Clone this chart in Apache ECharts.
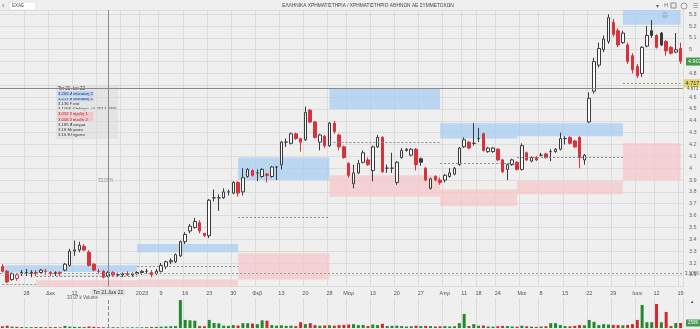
<!DOCTYPE html>
<html><head><meta charset="utf-8">
<script src="https://cdn.jsdelivr.net/npm/echarts@6/dist/echarts.min.js"></script>
<style>html,body{margin:0;padding:0;background:#efefef}#c{width:700px;height:329px}</style>
</head><body><div id="c"></div>
<script>
const categories = [
'2022-11-21','2022-11-22','2022-11-23','2022-11-24','2022-11-25','2022-11-28','2022-11-29','2022-11-30',
'2022-12-01','2022-12-02','2022-12-05','2022-12-06','2022-12-07','2022-12-08','2022-12-09','2022-12-12','2022-12-13','2022-12-14','2022-12-15','2022-12-16','2022-12-19','2022-12-20','2022-12-21','2022-12-22','2022-12-23','2022-12-27','2022-12-28','2022-12-29','2022-12-30',
'2023-01-02','2023-01-03','2023-01-04','2023-01-05','2023-01-09','2023-01-10','2023-01-11','2023-01-12','2023-01-13','2023-01-16','2023-01-17','2023-01-18','2023-01-19','2023-01-20','2023-01-23','2023-01-24','2023-01-25','2023-01-26','2023-01-27','2023-01-30','2023-01-31',
'2023-02-01','2023-02-02','2023-02-03','2023-02-06','2023-02-07','2023-02-08','2023-02-09','2023-02-10','2023-02-13','2023-02-14','2023-02-15','2023-02-16','2023-02-17','2023-02-20','2023-02-21','2023-02-22','2023-02-23','2023-02-24','2023-02-28',
'2023-03-01','2023-03-02','2023-03-03','2023-03-06','2023-03-07','2023-03-08','2023-03-09','2023-03-10','2023-03-13','2023-03-14','2023-03-15','2023-03-16','2023-03-17','2023-03-20','2023-03-21','2023-03-22','2023-03-23','2023-03-24','2023-03-27','2023-03-28','2023-03-29','2023-03-30','2023-03-31',
'2023-04-03','2023-04-04','2023-04-05','2023-04-06','2023-04-11','2023-04-12','2023-04-13','2023-04-18','2023-04-19','2023-04-20','2023-04-21','2023-04-24','2023-04-25','2023-04-26','2023-04-27','2023-04-28',
'2023-05-02','2023-05-03','2023-05-04','2023-05-05','2023-05-08','2023-05-09','2023-05-10','2023-05-11','2023-05-12','2023-05-15','2023-05-16','2023-05-17','2023-05-18','2023-05-19','2023-05-22','2023-05-23','2023-05-24','2023-05-25','2023-05-26','2023-05-29','2023-05-30','2023-05-31',
'2023-06-01','2023-06-02','2023-06-06','2023-06-07','2023-06-08','2023-06-09','2023-06-12','2023-06-13','2023-06-14','2023-06-15','2023-06-16','2023-06-19'
];
const opens = [
3.17,3.13,3.06,3.07,3.11,3.12,3.11,3.12,3.12,3.13,
3.12,3.11,3.12,3.14,3.18,3.30,3.31,3.34,3.29,3.19,
3.13,3.13,3.09,3.12,3.10,3.10,3.11,3.10,3.11,3.12,
3.13,3.12,3.11,3.13,3.17,3.21,3.21,3.26,3.38,3.47,
3.50,3.54,3.45,3.43,3.75,3.75,3.75,3.80,3.79,3.88,
3.80,3.93,3.98,3.96,3.93,3.95,3.93,4.01,4.03,4.22,
4.21,4.29,4.25,4.24,4.49,4.39,4.22,4.27,4.19,4.38,
4.28,4.18,4.04,3.87,3.96,4.05,4.07,3.98,4.18,4.26,
4.00,4.00,3.88,4.09,4.15,4.11,4.16,4.08,4.00,3.83,
3.93,3.90,3.90,3.93,3.95,4.03,4.18,4.22,4.21,4.25,
4.29,4.14,4.14,4.16,4.07,3.99,4.03,4.05,3.99,4.13,
4.06,4.09,4.11,4.12,4.14,4.14,4.16,4.25,4.26,4.23,
4.26,4.07,4.39,4.65,4.87,5.00,5.07,5.23,5.16,5.06,
5.04,4.95,4.86,4.80,5.03,5.16,5.12,5.14,5.07,5.02,4.98,5.01];
const closes = [
3.13,3.04,3.11,3.10,3.12,3.12,3.12,3.11,3.14,3.13,
3.11,3.12,3.11,3.19,3.30,3.31,3.35,3.31,3.18,3.14,
3.13,3.08,3.12,3.10,3.10,3.11,3.10,3.11,3.12,3.13,
3.13,3.10,3.13,3.18,3.21,3.22,3.27,3.38,3.44,3.51,
3.55,3.47,3.43,3.73,3.75,3.75,3.80,3.80,3.88,3.79,
3.92,3.99,3.94,3.96,3.99,3.94,4.01,4.01,4.22,4.22,
4.29,4.25,4.22,4.47,4.39,4.26,4.28,4.19,4.38,4.31,
4.18,4.09,3.94,3.96,4.04,4.13,4.03,4.18,4.26,3.97,
4.00,4.00,4.05,4.15,4.16,4.16,4.03,4.05,3.90,3.91,
3.90,3.88,3.94,3.96,4.00,4.17,4.24,4.17,4.21,4.25,
4.15,4.17,4.17,4.07,3.97,4.03,4.07,3.99,4.19,4.07,
4.09,4.07,4.11,4.09,4.14,4.16,4.25,4.25,4.21,4.18,
4.09,4.11,4.59,4.90,5.01,5.09,5.27,5.13,5.04,5.14,
4.90,4.83,4.78,5.02,5.12,5.12,5.02,5.04,4.99,4.97,5.00,4.902];
const lows = [
3.12,3.03,3.05,3.05,3.09,3.09,3.08,3.09,3.11,3.10,
3.09,3.09,3.09,3.13,3.17,3.26,3.29,3.30,3.17,3.13,
3.11,3.07,3.08,3.09,3.08,3.08,3.09,3.08,3.10,3.10,
3.11,3.08,3.10,3.12,3.15,3.19,3.20,3.25,3.36,3.45,
3.49,3.45,3.42,3.41,3.72,3.64,3.74,3.77,3.78,3.76,
3.77,3.92,3.93,3.89,3.92,3.88,3.92,3.90,3.99,4.18,
4.20,4.24,4.14,4.23,4.38,4.25,4.15,4.17,4.18,4.29,
4.15,4.08,3.92,3.83,3.95,4.04,4.02,3.89,4.17,3.96,
3.96,3.96,3.86,4.08,4.14,4.10,3.98,4.02,3.89,3.82,
3.89,3.86,3.88,3.92,3.94,4.02,4.17,4.16,4.19,4.22,
4.14,4.13,4.13,4.06,3.96,3.90,4.02,3.98,3.98,4.06,
4.05,4.06,4.10,4.08,4.06,4.13,4.15,4.20,4.20,4.17,
4.00,4.03,4.38,4.63,4.85,4.98,5.05,5.11,5.02,5.05,
4.88,4.80,4.76,4.77,5.02,5.10,5.01,5.03,4.95,4.96,4.97,4.88];
const highs = [
3.19,3.14,3.12,3.11,3.14,3.15,3.14,3.14,3.15,3.15,
3.13,3.13,3.13,3.20,3.32,3.39,3.38,3.36,3.31,3.20,
3.15,3.14,3.13,3.13,3.12,3.12,3.13,3.12,3.13,3.14,
3.15,3.14,3.15,3.20,3.22,3.24,3.28,3.39,3.46,3.53,
3.58,3.56,3.45,3.74,3.82,3.78,3.83,3.82,3.89,3.89,
4.00,4.00,3.99,3.99,4.00,3.96,4.02,4.02,4.23,4.25,
4.30,4.30,4.25,4.52,4.50,4.40,4.29,4.28,4.39,4.40,
4.29,4.19,4.05,4.03,4.07,4.15,4.09,4.19,4.28,4.27,
4.03,4.13,4.06,4.17,4.17,4.17,4.17,4.09,4.01,3.92,
3.94,3.92,3.95,4.00,4.01,4.18,4.26,4.23,4.38,4.34,
4.30,4.18,4.18,4.17,4.08,4.04,4.08,4.06,4.21,4.14,
4.10,4.10,4.13,4.13,4.16,4.17,4.30,4.27,4.27,4.24,
4.27,4.12,4.64,4.93,5.06,5.12,5.30,5.26,5.18,5.16,
5.06,4.97,4.88,5.03,5.20,5.25,5.13,5.15,5.08,5.03,5.14,5.06];
const volumesK = [
90,120,70,60,50,40,45,50,55,40,
45,50,40,110,70,60,55,50,80,60,
45,40,33.07,40,35,30,30,35,30,35,
45,50,60,70,80,90,100,1450,420,400,
380,100,90,420,260,240,120,110,150,130,
250,250,230,200,400,380,150,120,140,110,
120,100,300,200,250,150,120,130,140,120,
150,160,180,200,150,160,100,180,150,220,
100,110,120,100,80,90,120,100,110,100,
80,90,100,80,90,250,730,100,200,120,
130,80,70,90,110,100,80,70,120,90,
70,60,80,90,250,250,150,100,90,110,
150,140,420,320,150,200,180,160,150,140,
160,200,420,1200,300,300,1250,300,830,100,260,259];

// week tick labels on the date axis
const tickDates = ['2022-11-28','2022-12-05','2022-12-12','2022-12-19','2022-12-27','2023-01-02','2023-01-09','2023-01-16','2023-01-23','2023-01-30','2023-02-06','2023-02-13','2023-02-20','2023-02-28','2023-03-06','2023-03-13','2023-03-20','2023-03-27','2023-04-03','2023-04-11','2023-04-18','2023-04-24','2023-05-02','2023-05-08','2023-05-15','2023-05-22','2023-05-29','2023-06-06','2023-06-12','2023-06-19'];
const tickLabels = ['28','Δεκ','12','19','27','2023','9','16','23','30','Φεβ','13','20','28','Μαρ','13','20','27','Απρ','11','18','24','Μαι','8','15','22','29','Ιουν','12','19'];

// monthly pivot zones (Fibonacci pivots)
const pivotStart = ['2022-11-21','2022-11-30','2022-12-30','2023-01-31','2023-02-28','2023-03-31','2023-04-28','2023-05-31'];
const pivotEnd   = ['2022-11-30','2022-12-30','2023-01-31','2023-02-28','2023-03-31','2023-04-28','2023-05-31','2023-06-19'];
const pivotR2 = [3.18, 3.18, 3.36, 4.09, 4.67, 4.38, 4.38, 5.52];
const pivotR1 = [3.12, 3.125, 3.29, 3.90, 4.50, 4.25, 4.27, 5.21];
const pivotP  = [3.02, 3.09, 3.175, 3.59, 4.22, 4.04, 4.09, 4.717];
const pivotS1 = [2.93, 3.055, 3.06, 3.28, 3.94, 3.82, 3.89, 4.21];
const pivotS2 = [2.87, 3.00, 2.99, 3.06, 3.76, 3.68, 3.78, 3.90];

const refLine = 3.1066;
const crossDate = '2022-12-21';
const crossDateLabel = 'Τετ 21 Δεκ 22';
const crossPrice = 4.673;
const infoRows = [
  ['3.266', 'Αντίσταση 2', 'R'],
  ['3.217', 'Αντίσταση 1', 'R'],
  ['3.136', 'Pivot', 'P'],
  ['3.1066', 'Κλείσιμο +0.032 1.03%', 'N'],
  ['3.052', 'Στήριξη 1', 'S'],
  ['3.006', 'Στήριξη 2', 'S'],
  ['3.185', 'Άνοιγμα', 'N'],
  ['3.18', 'Μέγιστο', 'N'],
  ['3.16', 'Ελάχιστο', 'N']
];

const UP = '#3a3a3a', DN = '#d7333b', HOLLOW = '#ffffff';
const VUP = '#1f8a2b', VDN = '#cf2a2a';
const FONT = 'Liberation Sans';
const NOLINE = {color: 'rgba(0,0,0,0)', width: 0};

const candleData = categories.map((d, i) => {
  const o = opens[i], c = closes[i], l = lows[i], h = highs[i];
  const prev = i ? closes[i - 1] : o;
  const col = c >= prev ? UP : DN;
  const fill = c > o ? HOLLOW : col;
  return {value: [o, c, l, h], itemStyle: {color: fill, color0: fill, borderColor: col, borderColor0: col, borderColorDoji: col, borderWidth: 1}};
});
const volData = categories.map((d, i) => {
  const prev = i ? closes[i - 1] : opens[i];
  return {value: volumesK[i], itemStyle: {color: closes[i] >= prev ? VUP : VDN}};
});

const blueAreas = pivotStart.map((s, k) => [{xAxis: s, yAxis: pivotR1[k], itemStyle: {color: 'rgba(170,205,240,0.75)'}}, {xAxis: pivotEnd[k], yAxis: pivotR2[k]}]);
const pinkAreas = pivotStart.map((s, k) => [{xAxis: s, yAxis: pivotS1[k], itemStyle: {color: 'rgba(246,196,200,0.7)'}}, {xAxis: pivotEnd[k], yAxis: pivotS2[k]}]);
const last = pivotStart.length - 1;
const pivotLines = pivotStart.map((s, k) => [
  {xAxis: s, yAxis: pivotP[k], lineStyle: {type: [2, 2], color: k === last ? '#a09440' : '#8c8c8c', width: 1},
   label: k === last ? {show: true, position: 'end', formatter: String(pivotP[k]), backgroundColor: '#e3d36a', color: '#333', fontSize: 5.5, padding: [1, 2], distance: 3} : {show: false}},
  {xAxis: pivotEnd[k], yAxis: pivotP[k]}
]);

const isTick = (idx, val) => tickDates.indexOf(val) >= 0;
const fmtPrice = v => String(+(+v).toFixed(2));
const crossIdx = categories.indexOf(crossDate);
const lastClose = closes[closes.length - 1];
const lastVol = volumesK[volumesK.length - 1];

const chart = echarts.init(document.getElementById('c'), null, {renderer: 'canvas'});
const graphics = [
  {type: 'text', left: 2, top: 2, style: {text: '‹', fontSize: 8, fill: '#666', fontFamily: FONT}},
  {type: 'rect', shape: {x: 9, y: 2, width: 27, height: 8}, style: {fill: '#ffffff', stroke: '#cfcfcf', lineWidth: 0.5}},
  {type: 'text', x: 12, y: 3.5, style: {text: 'ΕΧΑΕ', fontSize: 4.5, fill: '#555', fontFamily: FONT}},
  {type: 'text', x: 368, y: 6, style: {text: 'ΕΛΛΗΝΙΚΑ ΧΡΗΜΑΤΙΣΤΗΡΙΑ / ΧΡΗΜΑΤΙΣΤΗΡΙΟ ΑΘΗΝΩΝ ΑΕ ΣΥΜΜΕΤΟΧΩΝ', fontSize: 4.8, fill: '#444', fontFamily: FONT, align: 'center', verticalAlign: 'middle'}},
  {type: 'text', x: 657, y: 6, style: {text: '▾', fontSize: 6, fill: '#666', align: 'center', verticalAlign: 'middle'}},
  {type: 'text', x: 666, y: 6, style: {text: 'H', fontSize: 5, fill: '#666', fontFamily: FONT, align: 'center', verticalAlign: 'middle'}},
  {type: 'rect', shape: {x: 671, y: 3, width: 5, height: 5}, style: {fill: 'none', stroke: '#777', lineWidth: 0.8}},
  {type: 'circle', shape: {cx: 684, cy: 6, r: 3}, style: {fill: 'none', stroke: '#888', lineWidth: 0.8}},
  {type: 'text', x: 695, y: 6, style: {text: '☰', fontSize: 6, fill: '#666', align: 'center', verticalAlign: 'middle'}},
  {type: 'circle', shape: {cx: 665, cy: 15, r: 2.8}, style: {fill: '#8a8a8a', stroke: '#666', lineWidth: 0.6}},
  {type: 'text', x: 98, y: 178, style: {text: '33.01%', fontSize: 4.5, fill: '#777', fontFamily: FONT}},
  {type: 'text', x: 67, y: 295.5, style: {text: '33.07 k Volume', fontSize: 4.5, fill: '#555', fontFamily: FONT}},
  {type: 'text', x: 692, y: 302, style: {text: '▴', fontSize: 5, fill: '#555', align: 'center', verticalAlign: 'middle'}}
];
// info box (crosshair readout)
const infoChildren = [{type: 'rect', shape: {x: 0, y: 0, width: 62, height: 54}, style: {fill: 'rgba(226,226,226,0.9)'}},
  {type: 'text', x: 2, y: 1, style: {text: crossDateLabel, fontSize: 4.5, fill: '#333', fontFamily: FONT}}];
infoRows.forEach((r, k) => {
  const y = 6.5 + k * 5.2;
  const bg = r[2] === 'R' ? '#b8d1ef' : r[2] === 'S' ? '#f2c6c9' : null;
  const fg = r[2] === 'R' ? '#23468f' : r[2] === 'S' ? '#b3262c' : '#333';
  if (bg) infoChildren.push({type: 'rect', shape: {x: 1.5, y: y - 0.3, width: 36, height: 4.8}, style: {fill: bg}});
  infoChildren.push({type: 'text', x: 2, y: y, style: {text: r[0] + ' ' + r[1], fontSize: 4.3, fill: fg, fontFamily: FONT}});
});
graphics.push({type: 'group', x: 56, y: 85, children: infoChildren});

chart.setOption({
  animation: false,
  backgroundColor: '#efefef',
  textStyle: {fontFamily: FONT},
  axisPointer: {triggerOn: 'none'},
  grid: [
    {left: 0, top: 10, width: 683, height: 276.7},
    {left: 0, top: 298, width: 683, height: 30}
  ],
  xAxis: [
    {type: 'category', gridIndex: 0, data: categories, boundaryGap: true,
     axisLine: {show: false}, axisTick: {show: false},
     axisLabel: {interval: isTick, formatter: v => tickLabels[tickDates.indexOf(v)], fontSize: 5.5, color: '#555', margin: 4, hideOverlap: false},
     splitLine: {show: true, interval: isTick, lineStyle: {color: '#dcdcdc', width: 1}},
     axisPointer: {show: true, type: 'line', value: crossIdx, status: 'show', snap: false, triggerTooltip: false,
       lineStyle: {color: '#8a8a8a', width: 1, type: 'solid'},
       label: {show: true, formatter: () => crossDateLabel, fontSize: 5, color: '#333', backgroundColor: '#e2e2e2', padding: [1, 3], margin: 2}}},
    {type: 'category', gridIndex: 1, data: categories, boundaryGap: true,
     axisLine: {show: false}, axisTick: {show: false}, axisLabel: {show: false},
     splitLine: {show: true, interval: isTick, lineStyle: {color: '#dcdcdc', width: 1}},
     axisPointer: {show: true, type: 'line', value: crossIdx, status: 'show', snap: false, triggerTooltip: false,
       lineStyle: {color: '#8a8a8a', width: 1}, label: {show: false}}}
  ],
  yAxis: [
    {type: 'value', gridIndex: 0, position: 'right', min: 3.0, max: 5.335, interval: 0.1,
     axisLine: {show: false}, axisTick: {show: false},
     axisLabel: {fontSize: 5.5, color: '#666', margin: 6, showMaxLabel: false, showMinLabel: false, formatter: fmtPrice},
     splitLine: {show: true, lineStyle: {color: '#dcdcdc', width: 1}},
     axisPointer: {show: true, type: 'line', value: crossPrice, status: 'show', triggerTooltip: false,
       lineStyle: {color: '#8a8a8a', width: 1, type: 'solid'},
       label: {show: true, formatter: () => String(crossPrice), fontSize: 4.5, color: '#555', backgroundColor: 'transparent', padding: [0, 1], margin: 3}}},
    {type: 'value', gridIndex: 1, min: 0, max: 1560, show: true,
     axisLine: {show: false}, axisTick: {show: false}, axisLabel: {show: false}, splitLine: {show: false}}
  ],
  series: [
    {name: 'pivots', type: 'line', xAxisIndex: 0, yAxisIndex: 0, data: [], silent: true, z: 1,
     markArea: {silent: true, data: blueAreas.concat(pinkAreas)},
     markLine: {silent: true, symbol: ['none', 'none'], animation: false,
       data: pivotLines.concat([{yAxis: refLine, lineStyle: {type: [2, 2], color: '#9a9a9a', width: 1},
         label: {show: true, position: 'end', formatter: String(refLine), fontSize: 4.5, color: '#555', distance: 2}}])}},
    {name: 'ΕΧΑΕ', type: 'candlestick', xAxisIndex: 0, yAxisIndex: 0, data: candleData, barWidth: 3, z: 3,
     markLine: {silent: true, symbol: ['none', 'none'], animation: false, lineStyle: NOLINE,
       data: [{yAxis: lastClose, lineStyle: NOLINE,
         label: {show: true, position: 'end', formatter: lastClose.toFixed(3), backgroundColor: '#3f9a4e', color: '#fff', fontSize: 5.5, padding: [1, 2], distance: 3}}]}},
    {name: 'Volume', type: 'bar', xAxisIndex: 1, yAxisIndex: 1, data: volData, barWidth: 3, z: 3,
     markLine: {silent: true, symbol: ['none', 'none'], animation: false, lineStyle: NOLINE,
       data: [{yAxis: lastVol, lineStyle: NOLINE,
         label: {show: true, position: 'end', formatter: Math.round(lastVol) + 'K', backgroundColor: '#3f9a4e', color: '#fff', fontSize: 4.5, padding: [1, 2], distance: 3}}]}}
  ],
  graphic: graphics
});
</script></body></html>
